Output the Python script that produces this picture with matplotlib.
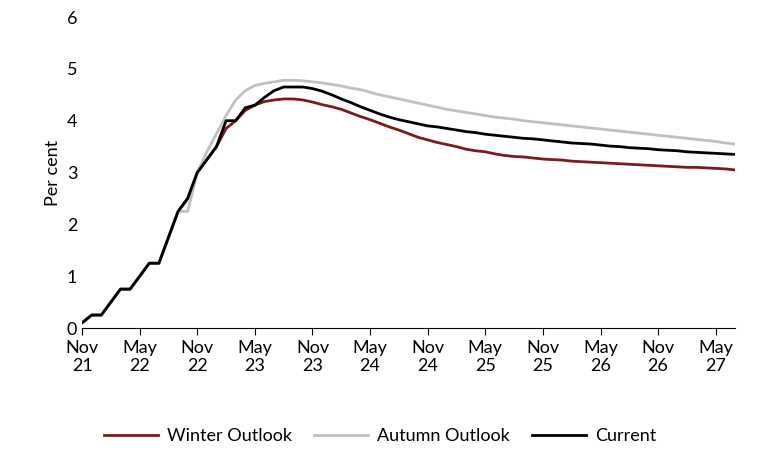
import numpy as np
import pandas as pd
from matplotlib import pyplot as plt

plt.rcParams['font.family'] = ['Lato', 'DejaVu Sans']

# monthly, Nov 2021 .. Jul 2027
dates = pd.date_range('2021-11-01', '2027-07-01', freq='MS')

early = [0.1, 0.25, 0.25, 0.5, 0.75, 0.75, 1.0, 1.25, 1.25, 1.75, 2.25, 2.5, 3.0, 3.25, 3.5]

current = early + [4.0, 4.0, 4.25, 4.3, 4.45, 4.58, 4.65, 4.65, 4.65, 4.62, 4.57, 4.5, 4.42,
                   4.35, 4.27, 4.2, 4.13, 4.07, 4.02, 3.98, 3.94, 3.9, 3.88, 3.85, 3.82, 3.79,
                   3.77, 3.74, 3.72, 3.7, 3.68, 3.66, 3.65, 3.63, 3.61, 3.59, 3.57, 3.56, 3.55,
                   3.53, 3.51, 3.5, 3.48, 3.47, 3.46, 3.44, 3.43, 3.42, 3.4, 3.39, 3.38, 3.37,
                   3.36, 3.35]

winter = early + [3.85, 4.0, 4.2, 4.3, 4.37, 4.4, 4.42, 4.42, 4.4, 4.36, 4.31, 4.27, 4.22,
                  4.15, 4.08, 4.02, 3.95, 3.88, 3.82, 3.75, 3.68, 3.63, 3.58, 3.54, 3.5, 3.45,
                  3.42, 3.4, 3.36, 3.33, 3.31, 3.3, 3.28, 3.26, 3.25, 3.24, 3.22, 3.21, 3.2,
                  3.19, 3.18, 3.17, 3.16, 3.15, 3.14, 3.13, 3.12, 3.11, 3.1, 3.1, 3.09, 3.08,
                  3.07, 3.05]

autumn = [0.1, 0.25, 0.25, 0.5, 0.75, 0.75, 1.0, 1.25, 1.25, 1.75, 2.25, 2.25, 3.0, 3.4, 3.75,
          4.1, 4.4, 4.58, 4.68, 4.72, 4.75, 4.78, 4.78, 4.77, 4.75, 4.73, 4.7, 4.67, 4.63,
          4.6, 4.55, 4.5, 4.46, 4.42, 4.38, 4.34, 4.3, 4.26, 4.22, 4.19, 4.16, 4.13, 4.1,
          4.07, 4.05, 4.03, 4.0, 3.98, 3.96, 3.94, 3.92, 3.9, 3.88, 3.86, 3.84, 3.82, 3.8,
          3.78, 3.76, 3.74, 3.72, 3.7, 3.68, 3.66, 3.64, 3.62, 3.6, 3.57, 3.55]

tick_labels = ['Nov\n21', 'May\n22', 'Nov\n22', 'May\n23', 'Nov\n23', 'May\n24', 'Nov\n24',
               'May\n25', 'Nov\n25', 'May\n26', 'Nov\n26', 'May\n27']

x = np.arange(len(dates))
fig, ax = plt.subplots(figsize=(7.6, 4.74), dpi=100)
ax.plot(x, winter, color='#7b1c1c', lw=2, label='Winter Outlook')
ax.plot(x, autumn, color='#c0c0c0', lw=2, label='Autumn Outlook')
ax.plot(x, current, color='black', lw=2, label='Current')

ax.set_xlim(0, len(dates) - 1)
ax.set_ylim(0, 6)
ax.set_xticks(np.arange(0, len(dates), 6))
ax.set_xticklabels(tick_labels, fontsize=13)
ax.tick_params(axis='y', labelsize=13, length=0)
ax.tick_params(axis='x', length=5, direction='out')
ax.set_ylabel('Per cent', fontsize=13)
for s in ['top', 'right', 'left']:
    ax.spines[s].set_visible(False)
ax.legend(loc='center', bbox_to_anchor=(0.5, 0.08), bbox_transform=fig.transFigure,
          ncol=3, frameon=False, fontsize=13, handlelength=3, columnspacing=1.2,
          handletextpad=0.5)
fig.subplots_adjust(left=0.108, right=0.967, top=0.964, bottom=0.308)
fig.savefig('out.png')
